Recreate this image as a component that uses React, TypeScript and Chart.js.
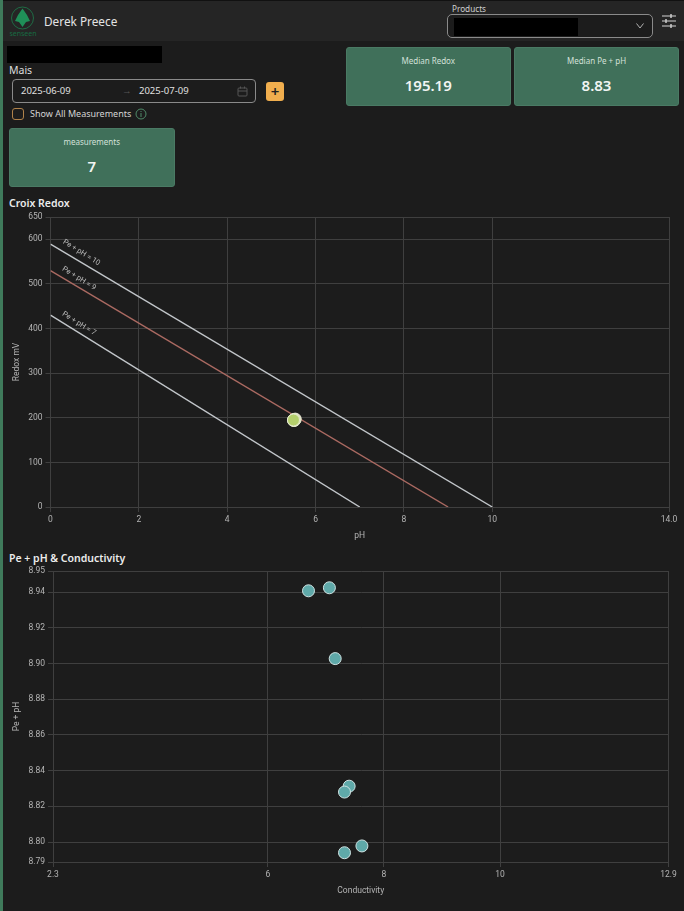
import React, { useEffect, useRef } from "react";
import { Chart, registerables } from "chart.js";

Chart.register(...registerables);

const redoxXTicks = [0, 2, 4, 6, 8, 10, 14];
const redoxYTicks = [0, 100, 200, 300, 400, 500, 600, 650];
const pe10X = [0, 10];
const pe10Y = [589, 0];
const pe9X = [0, 9];
const pe9Y = [530, 0];
const pe7X = [0, 7];
const pe7Y = [430, 0];
const lineLabels = ["Pe + pH = 10", "Pe + pH = 9", "Pe + pH = 7"];
const lineLabelX = [0.7, 0.645, 0.645];
const lineLabelY = [570, 512, 411];
const measurementPh = [5.54, 5.51, 5.52, 5.5, 5.51, 5.52, 5.5];
const measurementRedox = [197, 195, 194, 194, 196, 195, 195];
const measurementColors = ["#e8c8c0", "#b4cf6c", "#b4cf6c", "#b4cf6c", "#b4cf6c", "#b4cf6c", "#b4cf6c"];

const condXTicks = [2.3, 6, 8, 10, 12.9];
const condYTicks = [8.7888, 8.8, 8.82, 8.84, 8.86, 8.88, 8.9, 8.92, 8.94, 8.9519];
const conductivity = [6.7, 7.06, 7.16, 7.4, 7.32, 7.62, 7.32];
const pePh = [8.9408, 8.9425, 8.9028, 8.8313, 8.828, 8.7978, 8.794];

const GRID = "#3f3f3f";
const TICK = "#b4b4b4";
const tickFont = { family: "Roboto", size: 8.5 };

const toPoints = (xs: number[], ys: number[]) => xs.map((x, i) => ({ x, y: ys[i] }));

const lineDataset = (xs: number[], ys: number[], color: string) => ({
  data: toPoints(xs, ys),
  showLine: true,
  borderColor: color,
  borderWidth: 1.4,
  pointRadius: 0,
  order: 2,
});

const lineLabelPlugin = {
  id: "lineLabels",
  afterDatasetsDraw(chart: any) {
    if (chart.canvas.dataset.kind !== "redox") return;
    const { ctx, scales } = chart;
    lineLabels.forEach((text, i) => {
      ctx.save();
      ctx.translate(scales.x.getPixelForValue(lineLabelX[i]), scales.y.getPixelForValue(lineLabelY[i]));
      ctx.rotate((32 * Math.PI) / 180);
      ctx.font = "7.5px Roboto";
      ctx.fillStyle = "#b8b8b8";
      ctx.textAlign = "center";
      ctx.textBaseline = "middle";
      ctx.fillText(text, 0, 0);
      ctx.restore();
    });
  },
};

function axis(opts: {
  min: number;
  max: number;
  ticks: number[];
  title: string;
  format: (v: number) => string;
  vertical: boolean;
  fit: number;
}) {
  return {
    type: "linear",
    min: opts.min,
    max: opts.max,
    afterBuildTicks: (s: any) => {
      s.ticks = opts.ticks.map((value) => ({ value }));
    },
    afterFit: (s: any) => {
      if (opts.vertical) s.width = opts.fit;
      else s.height = opts.fit;
    },
    grid: { color: GRID, tickLength: 5, lineWidth: 1 },
    border: { color: GRID },
    ticks: {
      color: TICK,
      font: tickFont,
      padding: 3,
      maxRotation: 0,
      autoSkip: false,
      callback: (v: any) => opts.format(Number(v)),
    },
    title: {
      display: true,
      text: opts.title,
      color: TICK,
      font: tickFont,
      padding: opts.vertical ? { top: 12, bottom: 0 } : { top: 0, bottom: 6 },
    },
  };
}

function RedoxChart() {
  const ref = useRef<HTMLCanvasElement>(null);
  useEffect(() => {
    const chart = new Chart(ref.current as any, {
      type: "scatter",
      data: {
        datasets: [
          {
            data: toPoints(measurementPh, measurementRedox),
            backgroundColor: measurementColors,
            borderColor: "#e6ead2",
            borderWidth: 1,
            pointRadius: 6,
            order: 1,
          } as any,
          lineDataset(pe10X, pe10Y, "#c2c6ca"),
          lineDataset(pe9X, pe9Y, "#ab6a62"),
          lineDataset(pe7X, pe7Y, "#c2c6ca"),
        ],
      },
      options: {
        animation: false,
        responsive: false,
        layout: { padding: { top: 10, right: 15, left: 0, bottom: 0 } },
        plugins: { legend: { display: false }, tooltip: { enabled: false } },
        scales: {
          x: axis({
            min: 0,
            max: 14,
            ticks: redoxXTicks,
            title: "pH",
            format: (v) => (v === 14 ? "14.0" : String(v)),
            vertical: false,
            fit: 40,
          }),
          y: axis({
            min: 0,
            max: 650,
            ticks: redoxYTicks,
            title: "Redox mV",
            format: (v) => String(v),
            vertical: true,
            fit: 50.5,
          }),
        },
      } as any,
      plugins: [lineLabelPlugin],
    });
    return () => chart.destroy();
  }, []);
  return <canvas ref={ref} data-kind="redox" width={684} height={340} style={{ position: "absolute", left: 0, top: 207, width: 684, height: 340 }} />;
}

function ConductivityChart() {
  const ref = useRef<HTMLCanvasElement>(null);
  useEffect(() => {
    const chart = new Chart(ref.current as any, {
      type: "scatter",
      data: {
        datasets: [
          {
            data: toPoints(conductivity, pePh),
            backgroundColor: "#5fa9a9",
            borderColor: "#cfe3e3",
            borderWidth: 1,
            pointRadius: 6,
          } as any,
        ],
      },
      options: {
        animation: false,
        responsive: false,
        layout: { padding: { top: 10, right: 15.5, left: 0, bottom: 0 } },
        plugins: { legend: { display: false }, tooltip: { enabled: false } },
        scales: {
          x: axis({
            min: 2.3,
            max: 12.9,
            ticks: condXTicks,
            title: "Conductivity",
            format: (v) => String(v),
            vertical: false,
            fit: 40,
          }),
          y: axis({
            min: 8.7888,
            max: 8.9519,
            ticks: condYTicks,
            title: "Pe + pH",
            format: (v) => v.toFixed(2),
            vertical: true,
            fit: 53,
          }),
        },
      } as any,
    });
    return () => chart.destroy();
  }, []);
  return <canvas ref={ref} width={684} height={341} style={{ position: "absolute", left: 0, top: 561, width: 684, height: 341 }} />;
}

const abs = (left: number, top: number, extra: React.CSSProperties = {}): React.CSSProperties => ({
  position: "absolute",
  left,
  top,
  whiteSpace: "nowrap",
  ...extra,
});

function Card({ left, top, width, height, title, value }: any) {
  return (
    <div style={abs(left, top, { width, height, background: "#40705a", borderRadius: 3, border: "1px solid #4a7a64", boxSizing: "border-box" })}>
      <div style={{ position: "absolute", left: 0, right: 0, top: 7, textAlign: "center", fontSize: 8, lineHeight: "12px", color: "#d3e0d9" }}>{title}</div>
      <div style={{ position: "absolute", left: 0, right: 0, top: 25, textAlign: "center", fontSize: 15, lineHeight: "24px", fontWeight: 600, color: "#f1f5f3" }}>{value}</div>
    </div>
  );
}

function Logo() {
  return (
    <div style={abs(5, 5, { width: 36, height: 34 })}>
      <svg width="36" height="27" viewBox="0 0 36 27" style={{ position: "absolute", left: 0, top: 0 }}>
        <circle cx="17.5" cy="13" r="11" fill="none" stroke="#1d7d4c" strokeWidth="0.8" />
        <path d="M17.5 3.5 L22 10 L25 16 L21 17 L17.5 22 L14 17 L10 16 L13 10 Z" fill="#1f8f58" />
      </svg>
      <div style={{ position: "absolute", left: 0, right: 0, top: 24, textAlign: "center", fontSize: 7, lineHeight: "9px", color: "#176b42" }}>senseen</div>
    </div>
  );
}

export default function App() {
  return (
    <div
      style={{
        position: "absolute",
        left: 0,
        top: 0,
        width: 684,
        height: 911,
        overflow: "hidden",
        background: "#1c1c1c",
        color: "#e0e0e0",
        fontFamily: "'Noto Sans', sans-serif",
      }}
    >
      <div style={abs(0, 0, { width: 684, height: 41, background: "#252525", borderTop: "1px solid #111", boxSizing: "border-box" })} />
      <div style={abs(0, 0, { width: 3, height: 911, background: "#3f7a5b" })} />
      <Logo />
      <div style={abs(44, 12, { fontSize: 11.8, lineHeight: "18px", color: "#e4e4e4" })}>Derek Preece</div>

      <div style={abs(452, 3, { fontSize: 8.2, lineHeight: "11px", color: "#d0d0d0" })}>Products</div>
      <div style={abs(447, 14, { width: 206, height: 24, border: "1px solid #8a8a8a", borderRadius: 5, boxSizing: "border-box", background: "#1c1c1c" })} />
      <div style={abs(454, 17.5, { width: 124, height: 18, background: "#000" })} />
      <svg width="10" height="8" style={abs(635, 22)}>
        <path d="M1.5 1.5 L5 6 L8.5 1.5" fill="none" stroke="#b0b0b0" strokeWidth="1" />
      </svg>
      <svg width="16" height="16" style={abs(661, 13)}>
        <path d="M1 3 H15 M1 8 H15 M1 13 H15" stroke="#d4d4d4" strokeWidth="1" />
        <path d="M10 1 V5 M5 6 V10 M10 11 V15" stroke="#d4d4d4" strokeWidth="1.4" />
      </svg>

      <div style={abs(7, 46, { width: 155, height: 17, background: "#000" })} />
      <div style={abs(9, 63, { fontSize: 10.5, lineHeight: "15px", color: "#dcdcdc" })}>Mais</div>
      <div style={abs(12, 79, { width: 244, height: 24, border: "1px solid #8a8a8a", borderRadius: 4, boxSizing: "border-box" })} />
      <div style={abs(21, 84, { fontSize: 9.5, lineHeight: "14px" })}>2025-06-09</div>
      <div style={abs(122, 84, { fontSize: 9.5, lineHeight: "14px", color: "#555" })}>→</div>
      <div style={abs(139, 84, { fontSize: 9.5, lineHeight: "14px" })}>2025-07-09</div>
      <svg width="11" height="11" style={abs(237, 86)}>
        <rect x="1" y="2" width="9" height="8" rx="1" fill="none" stroke="#555" />
        <path d="M1 5 H10 M3.5 0.5 V2.5 M7.5 0.5 V2.5" stroke="#555" />
      </svg>
      <div style={abs(266, 82, { width: 18, height: 19, borderRadius: 3, background: "#f0ae4e", color: "#222", fontSize: 15, lineHeight: "18px", textAlign: "center", fontWeight: 600 })}>+</div>
      <div style={abs(12, 108, { width: 12, height: 12, border: "1px solid #b0824a", borderRadius: 3, boxSizing: "border-box" })} />
      <div style={abs(30, 107, { fontSize: 9, lineHeight: "14px", color: "#d4d4d4" })}>Show All Measurements</div>
      <svg width="12" height="12" style={abs(135, 108)}>
        <circle cx="6" cy="6" r="5" fill="none" stroke="#4f8a68" />
        <path d="M6 5 V9 M6 3 V4" stroke="#4f8a68" />
      </svg>

      <Card left={345.5} top={47} width={165.5} height={59} title="Median Redox" value="195.19" />
      <Card left={514} top={47} width={165} height={59} title="Median Pe + pH" value="8.83" />
      <Card left={9} top={128} width={165.5} height={59} title="measurements" value="7" />

      <div style={abs(9, 196, { fontSize: 10.5, lineHeight: "15px", fontWeight: 600, color: "#ececec" })}>Croix Redox</div>
      <RedoxChart />
      <div style={abs(9, 551, { fontSize: 10.5, lineHeight: "15px", fontWeight: 600, color: "#ececec" })}>Pe + pH &amp; Conductivity</div>
      <ConductivityChart />
    </div>
  );
}
